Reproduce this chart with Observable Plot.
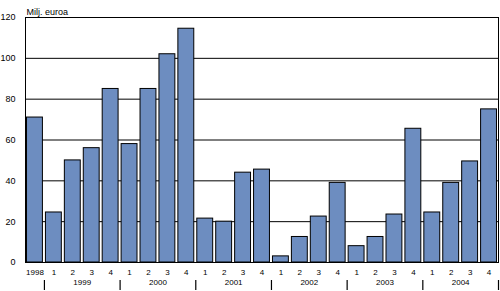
<!DOCTYPE html>
<html>
<head>
<meta charset="utf-8">
<script src="https://cdn.jsdelivr.net/npm/d3@7"></script>
<script src="https://cdn.jsdelivr.net/npm/@observablehq/plot@0.6"></script>
<style>
  html, body { margin: 0; padding: 0; background: #fff; }
  svg { display: block; }
</style>
</head>
<body>
<div id="chart"></div>
<script>
const periods = ["1998",
  "1999 Q1","1999 Q2","1999 Q3","1999 Q4",
  "2000 Q1","2000 Q2","2000 Q3","2000 Q4",
  "2001 Q1","2001 Q2","2001 Q3","2001 Q4",
  "2002 Q1","2002 Q2","2002 Q3","2002 Q4",
  "2003 Q1","2003 Q2","2003 Q3","2003 Q4",
  "2004 Q1","2004 Q2","2004 Q3","2004 Q4"];
const tickLabels = ["1998","1","2","3","4","1","2","3","4","1","2","3","4",
  "1","2","3","4","1","2","3","4","1","2","3","4"];
const values = [71, 24.5, 50, 56, 85, 58, 85, 102, 114.5, 21.5, 20, 44, 45.5,
  3, 12.5, 22.5, 39, 8, 12.5, 23.5, 65.5, 24.5, 39, 49.5, 75];
const years = ["1999","2000","2001","2002","2003","2004"];
const yearFirstIndex = [1, 5, 9, 13, 17, 21];
const yTicks = [0, 20, 40, 60, 80, 100, 120];
const unitLabel = "Milj. euroa";

const data = periods.map((p, i) => ({i, period: p, label: tickLabels[i], value: values[i]}));
const yearData = years.map((y, k) => ({year: y, center: yearFirstIndex[k] + 1.5, sep: yearFirstIndex[k] - 0.5}));
const seps = yearData.map(d => d.sep).concat([periods.length - 0.5]);

const font = "'Liberation Sans', Arial, sans-serif";

const chart = Plot.plot({
  width: 500,
  height: 291,
  marginLeft: 25,
  marginRight: 2,
  marginTop: 17,
  marginBottom: 29,
  style: {fontFamily: font, fontSize: "9px", background: "#fff", color: "#000"},
  x: {domain: [-0.5, periods.length - 0.5], axis: null},
  y: {domain: [0, 120], axis: null},
  marks: [
    Plot.gridY(yTicks, {stroke: "#000", strokeOpacity: 1, strokeWidth: 1}),
    Plot.frame({stroke: "#000", strokeWidth: 1}),
    Plot.rectY(data, {
      x1: d => d.i - 0.42, x2: d => d.i + 0.42, y: "value",
      fill: "#6d8dc0", stroke: "#000", strokeWidth: 1
    }),
    Plot.axisY(yTicks, {tickSize: 0, tickPadding: 10, fontSize: 9, label: null}),
    Plot.text([unitLabel], {frameAnchor: "top-left", dx: 1, dy: -9, textAnchor: "start", fontSize: 9}),
    Plot.text(data, {x: "i", text: "label", frameAnchor: "bottom", dy: 12, fontSize: 8}),
    Plot.text(yearData, {x: "center", text: "year", frameAnchor: "bottom", dy: 22, fontSize: 8}),
    Plot.tickX(seps, {x: d => d, stroke: "#000", strokeWidth: 1.2, insetTop: 235, dy: 28})
  ]
});
document.getElementById("chart").appendChild(chart);
</script>
</body>
</html>
